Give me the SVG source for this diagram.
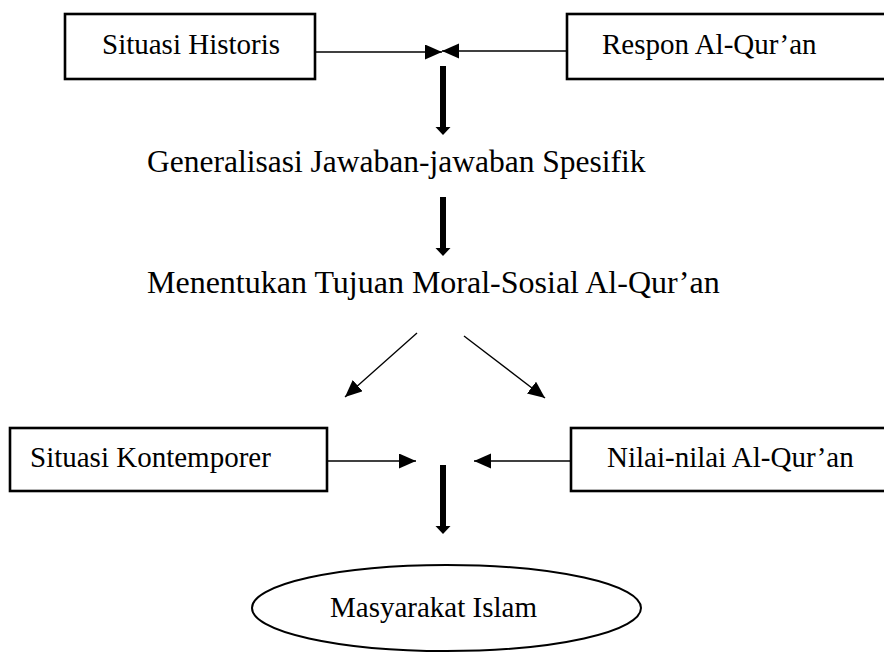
<svg xmlns="http://www.w3.org/2000/svg" width="884" height="653" viewBox="0 0 884 653">
<style>
.box{fill:#fff;stroke:#000;stroke-width:2.6}
.t{font-family:"Liberation Serif","Times New Roman",serif;font-size:29px;fill:#000}
.tm{font-family:"Liberation Serif","Times New Roman",serif;font-size:31.5px;fill:#000}
.thin{stroke:#000;stroke-width:1.4;fill:none;marker-end:url(#ah)}
.thick{stroke:#000;stroke-width:6;fill:none;marker-end:url(#th)}
</style>
<defs>
<marker id="ah" markerUnits="userSpaceOnUse" markerWidth="18" markerHeight="16" refX="17" refY="7.5" orient="auto"><path d="M0,0 L17,7.5 L0,15 z" fill="#000"/></marker>
<marker id="th" markerUnits="userSpaceOnUse" markerWidth="9" markerHeight="16" refX="0" refY="7.5" orient="auto"><path d="M0,0 L8,7.5 L0,15 z" fill="#000"/></marker>
</defs>
<rect width="884" height="653" fill="#fff"/>
<g id="connectors">
<path class="thin" d="M315,52 L442,52"/>
<path class="thin" d="M567,51 L442,51"/>
<path class="thick" d="M443,66 L443,127"/>
<path class="thick" d="M443,197 L443,248"/>
<path class="thin" d="M417,333 L345,397"/>
<path class="thin" d="M464,336 L545,398"/>
<path class="thin" d="M327,461 L416,461"/>
<path class="thin" d="M570,461 L474,461"/>
<path class="thick" d="M443,465 L443,526"/>
</g>
<g id="situasi-historis">
<rect class="box" x="65" y="14" width="250" height="65"/>
<text class="t" x="102" y="54">Situasi Historis</text>
</g>
<g id="respon-alquran">
<rect class="box" x="567" y="14" width="330" height="65"/>
<text class="t" x="602" y="54">Respon Al-Qur’an</text>
</g>
<g id="generalisasi">
<text class="tm" x="147" y="172">Generalisasi Jawaban-jawaban Spesifik</text>
</g>
<g id="menentukan">
<text class="tm" x="147" y="293" style="font-size:32px">Menentukan Tujuan Moral-Sosial Al-Qur’an</text>
</g>
<g id="situasi-kontemporer">
<rect class="box" x="10" y="428" width="317" height="63"/>
<text class="t" x="30" y="467">Situasi Kontemporer</text>
</g>
<g id="nilai-nilai">
<rect class="box" x="571" y="428" width="330" height="63"/>
<text class="t" x="607" y="467">Nilai-nilai Al-Qur’an</text>
</g>
<g id="masyarakat-islam">
<ellipse cx="446.5" cy="608" rx="194.5" ry="43" fill="#fff" stroke="#000" stroke-width="2"/>
<text class="t" x="330" y="617">Masyarakat Islam</text>
</g>
</svg>
